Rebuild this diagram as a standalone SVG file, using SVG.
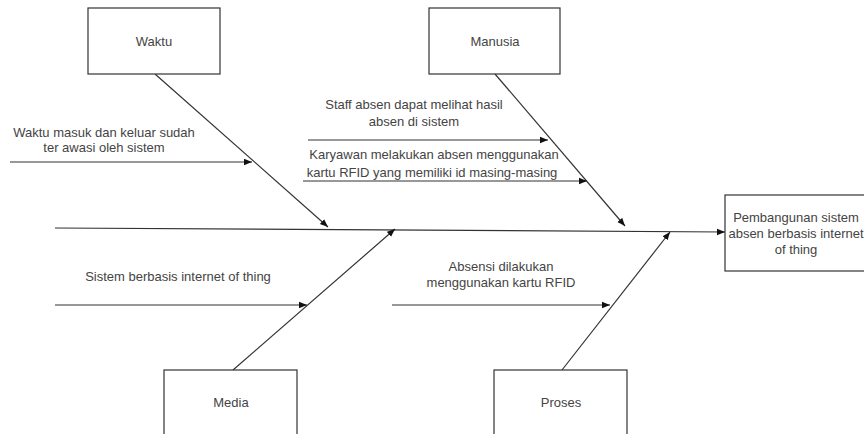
<svg xmlns="http://www.w3.org/2000/svg" width="864" height="434" viewBox="0 0 864 434">
  <defs>
    <marker id="arrow" viewBox="0 0 10 10" refX="10" refY="5" markerWidth="8" markerHeight="8" markerUnits="userSpaceOnUse" orient="auto">
      <path d="M0,1 L10,5 L0,9 Z" fill="#111"/>
    </marker>
    <style>
      .box { fill: #fff; stroke: #333; stroke-width: 1.2; }
      .lbl { font-family: "Liberation Sans", Arial, sans-serif; font-size: 13px; fill: #444; text-anchor: middle; }
      .con { stroke: #333; stroke-width: 1.2; fill: none; marker-end: url(#arrow); }
    </style>
  </defs>
  <rect width="864" height="434" fill="#fff"/>

  <!-- connectors: spine, category bones and cause arrows -->
  <g id="connectors">
    <line class="con" x1="55" y1="228" x2="725" y2="232"/>
    <line class="con" x1="155" y1="74" x2="328" y2="227"/>
    <line class="con" x1="495" y1="74" x2="625" y2="226"/>
    <line class="con" x1="233" y1="370" x2="395" y2="229"/>
    <line class="con" x1="562" y1="370" x2="670" y2="232"/>
    <line class="con" x1="10" y1="162" x2="252" y2="162"/>
    <line class="con" x1="308" y1="140" x2="548" y2="140"/>
    <line class="con" x1="303" y1="181" x2="587" y2="181"/>
    <line class="con" x1="55" y1="305" x2="307" y2="305"/>
    <line class="con" x1="392" y1="305" x2="610" y2="305"/>
  </g>

  <!-- cause labels -->
  <g id="causes">
    <text class="lbl" x="104" y="137">Waktu masuk dan keluar sudah</text>
    <text class="lbl" x="104" y="152">ter awasi oleh sistem</text>
    <text class="lbl" x="414" y="109">Staff absen dapat melihat hasil</text>
    <text class="lbl" x="414" y="126">absen di sistem</text>
    <text class="lbl" x="434" y="159">Karyawan melakukan absen menggunakan</text>
    <text class="lbl" x="432" y="177">kartu RFID yang memiliki id masing-masing</text>
    <text class="lbl" x="178" y="281">Sistem berbasis internet of thing</text>
    <text class="lbl" x="501" y="271">Absensi dilakukan</text>
    <text class="lbl" x="501" y="287">menggunakan kartu RFID</text>
  </g>

  <g id="waktu">
    <rect class="box" x="88" y="8" width="132" height="66"/>
    <text class="lbl" x="154" y="46">Waktu</text>
  </g>
  <g id="manusia">
    <rect class="box" x="429" y="8" width="131" height="66"/>
    <text class="lbl" x="495" y="46">Manusia</text>
  </g>
  <g id="media">
    <rect class="box" x="164" y="370" width="133" height="72"/>
    <text class="lbl" x="231" y="407">Media</text>
  </g>
  <g id="proses">
    <rect class="box" x="494" y="370" width="133" height="72"/>
    <text class="lbl" x="561" y="407">Proses</text>
  </g>
  <g id="hasil">
    <rect class="box" x="725" y="195" width="144" height="76"/>
    <text class="lbl" x="796" y="222">Pembangunan sistem</text>
    <text class="lbl" x="796" y="238">absen berbasis internet</text>
    <text class="lbl" x="796" y="254">of thing</text>
  </g>
</svg>
